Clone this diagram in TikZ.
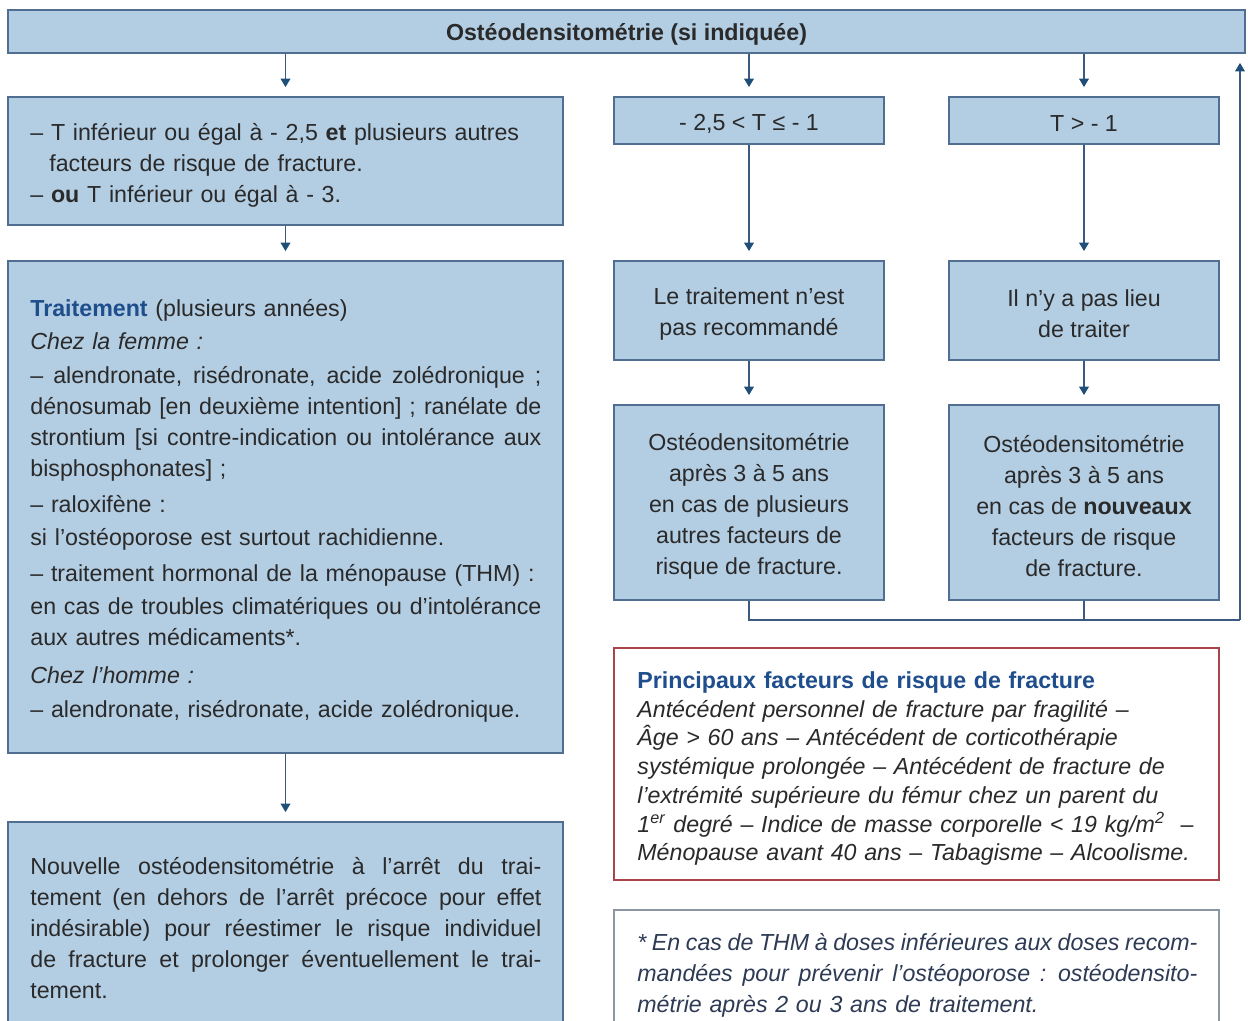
\documentclass[tikz,border=0pt]{standalone}
\usepackage{fontspec}
\setmainfont{Liberation Sans}
\usetikzlibrary{arrows.meta,calc}
\definecolor{boxfill}{HTML}{B3CDE3}
\definecolor{boxborder}{HTML}{4F6E91}
\definecolor{connline}{HTML}{3A5A80}
\definecolor{arrowtip}{HTML}{1F4E79}
\definecolor{titleblue}{HTML}{1F4E8C}
\definecolor{textcol}{HTML}{2A2A2A}
\definecolor{redborder}{HTML}{A8444A}
\definecolor{noteborder}{HTML}{8C96A3}
\definecolor{notetext}{HTML}{2E3B55}
\newcommand\myfs{\fontsize{11.6}{15.5}\selectfont}
\newcommand\myfsr{\fontsize{11.6}{14.35}\selectfont}
\newcommand\justline[2][255.5pt]{\makebox[#1][s]{\spaceskip=0pt\relax#2}}
\begin{document}
\begin{tikzpicture}[x=0.5pt,y=-0.5pt,
  box/.style={draw=boxborder, fill=boxfill, line width=0.9pt, inner sep=0pt},
  plainbox/.style={draw=#1, fill=white, line width=0.9pt, inner sep=0pt},
  txt/.style={inner sep=0pt, align=left, font=\myfs, text=textcol, anchor=base west},
  ctxt/.style={inner sep=0pt, align=center, font=\myfs, text=textcol},
  conn/.style={draw=connline, line width=0.75pt},
  arr/.style={conn, -{Triangle[width=4.8pt,length=4.2pt,color=arrowtip]}, shorten >=4.5pt}
]
\useasboundingbox (0,0) rectangle (1248,1021);

% top bar
\node[box, minimum width=618.5pt, minimum height=21.5pt] (top) at (626.5,31.5) {};
\node[ctxt, font=\myfs\bfseries] (toptext) at (626.5,34.5) {Ostéodensitométrie (si indiquée)};

% left column
\node[box, minimum width=277.5pt, minimum height=64pt] (A) at (285.5,161) {};
\node[txt, text width=265pt] (Atext) at (30,140.5) {– T inférieur ou égal à - 2,5 \textbf{et} plusieurs autres\\
\hspace*{9.5pt}facteurs de risque de fracture.\\
– \textbf{ou} T inférieur ou égal à - 3.};

\node[box, minimum width=277.5pt, minimum height=246pt] (B) at (285.5,507) {};
\node[txt, text width=265pt] (Btext) at (30,316.5) {\textcolor{titleblue}{\textbf{Traitement}} (plusieurs années)\\[1pt]
\textit{Chez la femme :}\\[1.5pt]
\justline{– alendronate, risédronate, acide zolédronique ;}\\
\justline{dénosumab [en deuxième intention] ; ranélate de}\\
\justline{strontium [si contre-indication ou intolérance aux}\\
bisphosphonates] ;\\[2.5pt]
– raloxifène :\\[1pt]
si l'ostéoporose est surtout rachidienne.\\[2.5pt]
– traitement hormonal de la ménopause (THM) :\\[1pt]
\justline{en cas de troubles climatériques ou d'intolérance}\\
aux autres médicaments*.\\[3.5pt]
\textit{Chez l'homme :}\\[1.5pt]
– alendronate, risédronate, acide zolédronique.};

\node[box, minimum width=277.5pt, minimum height=104pt] (C) at (285.5,926) {};
\node[txt, text width=265pt] (Ctext) at (30,874.5) {\justline{Nouvelle ostéodensitométrie à l'arrêt du trai-}\\
\justline{tement (en dehors de l'arrêt précoce pour effet}\\
\justline{indésirable) pour réestimer le risque individuel}\\
\justline{de fracture et prolonger éventuellement le trai-}\\
tement.};

% middle and right columns
\node[box, minimum width=135pt, minimum height=23.5pt] (D) at (749,120.5) {};
\node[ctxt] (Dtext) at (749,124) {- 2,5 < T ≤ - 1};
\node[box, minimum width=135pt, minimum height=23.5pt] (E) at (1084,120.5) {};
\node[ctxt] (Etext) at (1084,124) {T > - 1};
\node[box, minimum width=135pt, minimum height=49.5pt] (F) at (749,310.5) {};
\node[ctxt] (Ftext) at (749,314) {Le traitement n'est\\pas recommandé};
\node[box, minimum width=135pt, minimum height=49.5pt] (G) at (1084,310.5) {};
\node[ctxt] (Gtext) at (1084,314) {Il n'y a pas lieu\\de traiter};
\node[box, minimum width=135pt, minimum height=97.5pt] (H) at (749,502.5) {};
\node[ctxt] (Htext) at (749,506) {Ostéodensitométrie\\après 3 à 5 ans\\en cas de plusieurs\\autres facteurs de\\risque de fracture.};
\node[box, minimum width=135pt, minimum height=97.5pt] (I) at (1084,502.5) {};
\node[ctxt] (Itext) at (1084,506) {Ostéodensitométrie\\après 3 à 5 ans\\en cas de \textbf{nouveaux}\\facteurs de risque\\de fracture.};

% risk factors box
\node[plainbox=redborder, minimum width=302.5pt, minimum height=116pt] (R) at (916.5,764) {};
\node[txt, text width=292pt, font=\myfsr] (Rtext) at (637,688.5) {\textcolor{titleblue}{\textbf{Principaux facteurs de risque de fracture}}\\
\textit{Antécédent personnel de fracture par fragilité –}\\
\textit{Âge > 60 ans – Antécédent de corticothérapie}\\
\textit{systémique prolongée – Antécédent de fracture de}\\
\textit{l'extrémité supérieure du fémur chez un parent du}\\
\textit{1\textsuperscript{er} degré – Indice de masse corporelle < 19 kg/m\textsuperscript{2}~ –}\\
\textit{Ménopause avant 40 ans – Tabagisme – Alcoolisme.}};

% note box
\node[plainbox=noteborder, minimum width=302.5pt, minimum height=60pt] (N) at (916.5,970) {};
\node[txt, text width=290pt, text=notetext, font=\myfs\itshape] (Ntext) at (637,950.5) {\justline[280pt]{\spaceskip=0.16em plus 0.5em minus 0.05em\relax * En cas de THM à doses inférieures aux doses recom-}\\
\justline[280pt]{mandées pour prévenir l'ostéoporose : ostéodensito-}\\
métrie après 2 ou 3 ans de traitement.};

% connectors
\draw[arr] (top.south -| A.north) -- (A.north);
\draw[arr] (top.south -| D.north) -- (D.north);
\draw[arr] (top.south -| E.north) -- (E.north);
\draw[arr] (A.south) -- (B.north);
\draw[arr] (B.south) -- (C.north);
\draw[arr] (D.south) -- (F.north);
\draw[arr] (E.south) -- (G.north);
\draw[arr] (F.south) -- (H.north);
\draw[arr] (G.south) -- (I.north);
\coordinate (fb) at (1240,620);
\draw[conn] (H.south) |- (fb);
\draw[conn] (I.south) -- (I.south |- fb);
\draw[arr] (fb) -- (fb |- top.south);
\end{tikzpicture}
\end{document}
